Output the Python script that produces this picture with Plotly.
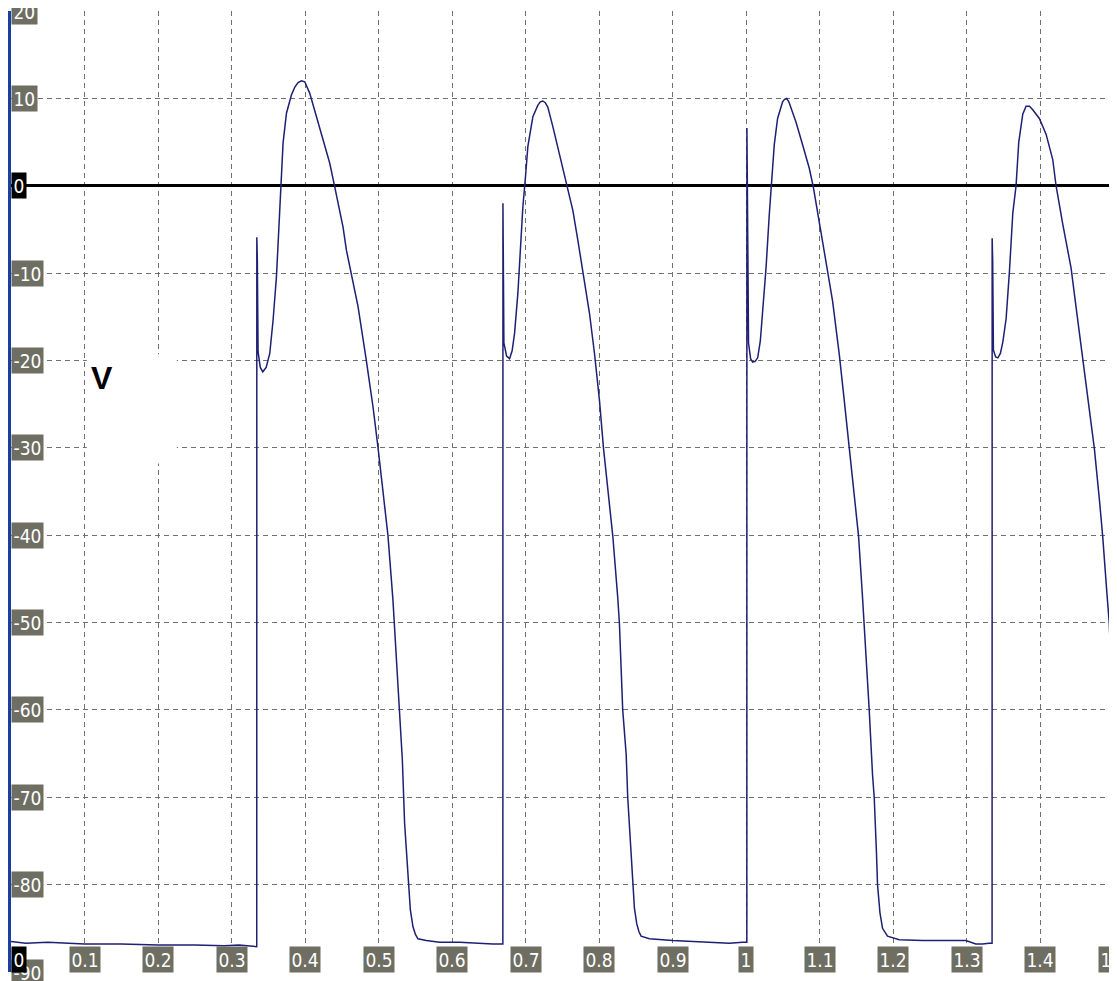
import plotly.graph_objects as go

# ---- data (time in s, membrane potential in mV) ----
t_base = [0.000, 0.020, 0.050, 0.100, 0.150, 0.200, 0.250, 0.290, 0.310, 0.333]
v_base = [-86.5, -86.7, -86.6, -86.8, -86.8, -86.9, -86.9, -87.0, -86.9, -87.1]

t_c1 = [0.3342, 0.3343, 0.3350, 0.3360, 0.3390, 0.3424, 0.3470, 0.3519, 0.3564, 0.3610,
        0.3655, 0.3678, 0.3700, 0.3746, 0.3814, 0.3860, 0.3904, 0.3950, 0.3995, 0.4062,
        0.4154, 0.4243, 0.4334, 0.4402, 0.4515, 0.4562, 0.4629, 0.4719, 0.4827, 0.4923,
        0.4990, 0.5126, 0.5194, 0.5231, 0.5285, 0.5322, 0.5353, 0.5398, 0.5431, 0.5466,
        0.5500, 0.5534, 0.5648, 0.5829, 0.6101, 0.6553, 0.6688]
v_c1 = [-87.1, -5.9, -8.5, -19.0, -20.8, -21.3, -20.8, -19.2, -15.4, -10.4,
        -2.4, 1.0, 4.9, 8.3, 10.4, 11.3, 11.8, 12.0, 11.9, 10.6,
        7.9, 5.2, 2.6, -0.1, -4.7, -7.4, -10.0, -13.8, -19.7, -25.3,
        -29.9, -40.0, -47.4, -52.8, -60.4, -65.7, -73.0, -79.5, -82.9, -84.8,
        -85.7, -86.2, -86.4, -86.6, -86.6, -86.8, -86.8]

t_c2 = [0.6689, 0.6690, 0.6700, 0.6703, 0.6740, 0.6780, 0.6815, 0.6848, 0.6893, 0.6926,
        0.6961, 0.6993, 0.7029, 0.7097, 0.7164, 0.7198, 0.7232, 0.7266, 0.7300, 0.7368,
        0.7459, 0.7559, 0.7640, 0.7708, 0.7776, 0.7867, 0.7935, 0.8003, 0.8057, 0.8129,
        0.8184, 0.8251, 0.8274, 0.8319, 0.8366, 0.8387, 0.8433, 0.8455, 0.8478, 0.8510,
        0.8540, 0.8569, 0.8682, 0.8999, 0.9226, 0.9542, 0.9769, 0.9950, 1.0006]
v_c2 = [-86.8, -2.0, -10.0, -18.0, -19.5, -19.8, -18.9, -16.9, -12.3, -7.0,
        -2.4, 0.65, 4.5, 7.9, 9.2, 9.6, 9.7, 9.5, 9.0, 6.8,
        3.7, 0.3, -2.8, -6.2, -10.0, -14.6, -19.2, -24.6, -30.0, -35.9,
        -40.1, -47.1, -50.1, -60.0, -65.1, -70.0, -76.4, -80.0, -82.7, -84.5,
        -85.4, -85.9, -86.2, -86.4, -86.5, -86.6, -86.7, -86.6, -86.6]

t_c3 = [1.0007, 1.0008, 1.0020, 1.0030, 1.0058, 1.0086, 1.0120, 1.0154, 1.0190, 1.0222,
        1.0268, 1.0312, 1.0349, 1.0380, 1.0425, 1.0493, 1.0520, 1.0548, 1.0578, 1.0607,
        1.0675, 1.0765, 1.0856, 1.0910, 1.0969, 1.1037, 1.1105, 1.1173, 1.1264, 1.1332,
        1.1399, 1.1467, 1.1526, 1.1580, 1.1603, 1.1671, 1.1716, 1.1739, 1.1770, 1.1784,
        1.1817, 1.1852, 1.1920, 1.2033, 1.2079, 1.2395, 1.2985, 1.3121, 1.3210, 1.3302,
        1.3341]
v_c3 = [-86.6, 6.6, -10.0, -18.0, -19.8, -20.2, -20.1, -19.7, -17.8, -14.7,
        -9.4, -3.3, 0.5, 4.7, 7.7, 9.6, 9.9, 10.0, 9.6, 8.9,
        7.3, 4.7, 2.0, -0.1, -2.9, -6.3, -9.8, -13.2, -19.3, -24.6,
        -30.0, -35.9, -40.1, -47.1, -50.1, -60.0, -67.4, -70.0, -76.4, -80.0,
        -83.2, -85.0, -85.9, -86.2, -86.3, -86.4, -86.4, -86.8, -86.8, -86.7,
        -86.7]

t_c4 = [1.3342, 1.3343, 1.3350, 1.3360, 1.3390, 1.3420, 1.3455, 1.3488, 1.3533, 1.3578,
        1.3624, 1.3668, 1.3705, 1.3759, 1.3804, 1.3850, 1.3895, 1.3985, 1.4076, 1.4167,
        1.4212, 1.4303, 1.4416, 1.4484, 1.4575, 1.4665, 1.4733, 1.4801, 1.4846, 1.4905,
        1.4936, 1.4959, 1.4982, 1.5000]
v_c4 = [-86.7, -6.0, -8.5, -18.8, -19.6, -19.7, -19.2, -17.9, -15.2, -9.8,
        -3.1, 0.0, 5.0, 8.2, 9.1, 9.1, 8.7, 7.7, 5.9, 3.0,
        0.0, -4.4, -9.4, -13.9, -19.7, -25.6, -30.1, -35.9, -40.1, -46.8,
        -50.1, -54.9, -58.0, -61.0]

x_ticks = [0, 0.1, 0.2, 0.3, 0.4, 0.5, 0.6, 0.7, 0.8, 0.9, 1.0, 1.1, 1.2, 1.3, 1.4, 1.5]
x_tick_labels = ["0", "0.1", "0.2", "0.3", "0.4", "0.5", "0.6", "0.7", "0.8", "0.9",
                 "1", "1.1", "1.2", "1.3", "1.4", "1.5"]
y_ticks = [20, 10, 0, -10, -20, -30, -40, -50, -60, -70, -80, -90]
y_tick_labels = ["20", "10", "0", "-10", "-20", "-30", "-40", "-50", "-60", "-70", "-80", "-90"]

axis_label = "V"

# ---- build figure ----
t_all = t_base + t_c1 + t_c2 + t_c3 + t_c4
v_all = v_base + v_c1 + v_c2 + v_c3 + v_c4

fig = go.Figure()
fig.add_trace(go.Scatter(x=t_all, y=v_all, mode="lines",
                         line=dict(color="#1f1f74", width=1.5),
                         hoverinfo="skip", showlegend=False))

label_font = dict(family="Liberation Sans Narrow, Arial Narrow, DejaVu Sans Condensed, Liberation Sans, Arial",
                  size=19, color="white")
gray = "#6e6e63"

annotations = []
# y tick labels (drawn first so the x "0" label sits on top)
for val, txt in zip(y_ticks, y_tick_labels):
    annotations.append(dict(x=0, y=val, xref="x", yref="y", text=txt, showarrow=False,
                            xanchor="left", yanchor="middle", font=label_font,
                            bgcolor="black" if val == 0 else gray, borderpad=1.5))
for val, txt in zip(x_ticks, x_tick_labels):
    annotations.append(dict(x=val, y=-90, xref="x", yref="y", text=txt, showarrow=False,
                            xanchor="left" if val == 0 else "center", yanchor="bottom",
                            font=label_font, bgcolor="black" if val == 0 else gray,
                            borderpad=1.5, yshift=-1))
annotations.append(dict(x=0.1236, y=-22.0, xref="x", yref="y", text="<b>" + axis_label + "</b>",
                        showarrow=False, xanchor="center", yanchor="middle",
                        font=dict(family="Liberation Sans, Arial", size=32, color="black")))

# the page body has an 8px margin: size the figure so it ends at the window edge
fig.update_layout(
    width=1109, height=973,
    margin=dict(l=3, r=3, t=3, b=9),
    plot_bgcolor="white", paper_bgcolor="white",
    showlegend=False,
    annotations=annotations,
    shapes=[dict(type="rect", xref="x", yref="y", x0=0.103, x1=0.2255, y0=-31.8, y1=-19.3,
                 fillcolor="white", line=dict(width=0), layer="above")],
)
fig.update_xaxes(range=[0, 1.5], tick0=0, dtick=0.1, showticklabels=False, ticks="",
                 showgrid=True, gridcolor="#707070", gridwidth=1, griddash="5px,4px",
                 zeroline=False, showline=False)
fig.update_yaxes(range=[-90, 20], tick0=0, dtick=10, showticklabels=False, ticks="",
                 showgrid=True, gridcolor="#707070", gridwidth=1, griddash="5px,4px",
                 zeroline=True, zerolinecolor="black", zerolinewidth=3,
                 showline=True, linecolor="#1a3fa0", linewidth=3, mirror=False)

fig.write_html("out.html")
